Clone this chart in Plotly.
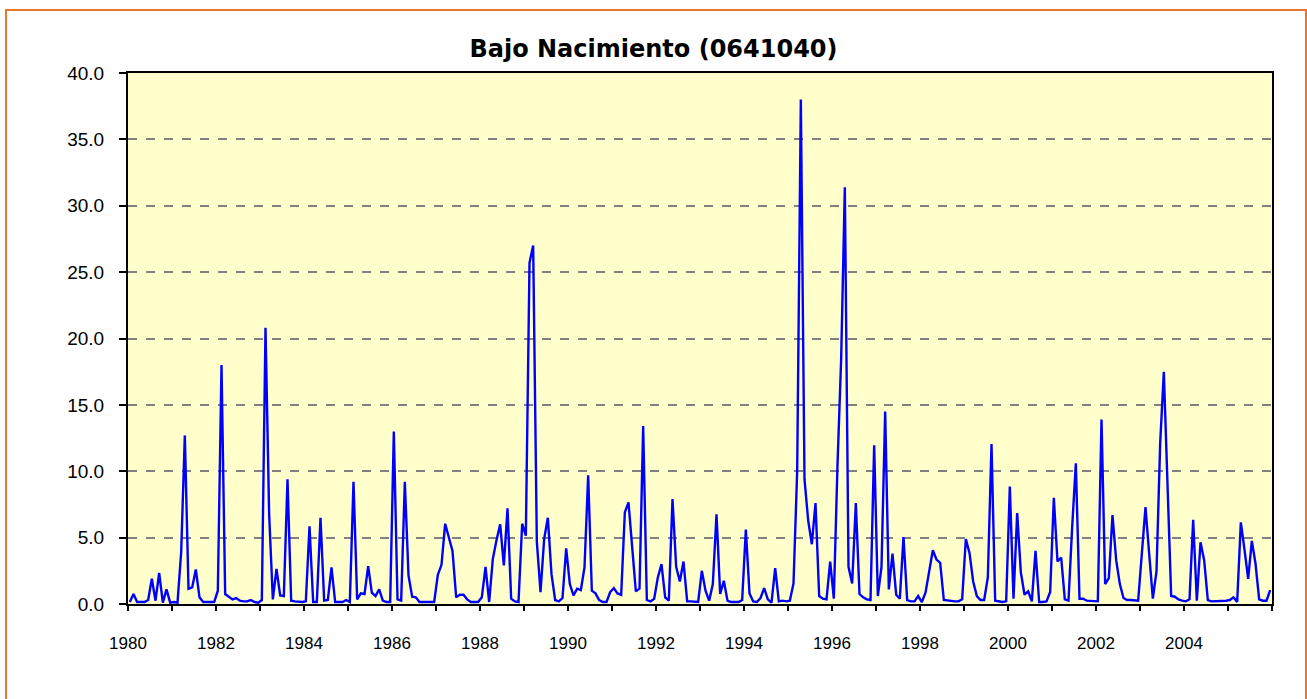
import plotly.graph_objects as go

# Caudal medio mensual (m3/s), estación Bajo Nacimiento (0641040), enero 1980 - diciembre 2005
q1980 = [0.15, 0.75, 0.15, 0.15, 0.15, 0.3, 1.9, 0.25, 2.35, 0.1, 1.1, 0.1]
q1981 = [0.15, 0.1, 3.9, 12.7, 1.15, 1.25, 2.6, 0.5, 0.15, 0.15, 0.15, 0.15]
q1982 = [1.0, 18.0, 0.75, 0.55, 0.35, 0.45, 0.25, 0.2, 0.2, 0.3, 0.15, 0.1]
q1983 = [0.3, 20.8, 6.7, 0.35, 2.65, 0.65, 0.6, 9.4, 0.25, 0.2, 0.15, 0.15]
q1984 = [0.2, 5.85, 0.15, 0.15, 6.5, 0.25, 0.3, 2.75, 0.15, 0.15, 0.15, 0.3]
q1985 = [0.15, 9.2, 0.35, 0.8, 0.75, 2.85, 0.85, 0.6, 1.1, 0.25, 0.15, 0.15]
q1986 = [13.0, 0.35, 0.25, 9.2, 2.15, 0.55, 0.5, 0.15, 0.15, 0.15, 0.15, 0.15]
q1987 = [2.2, 2.95, 6.05, 5.0, 4.0, 0.5, 0.7, 0.7, 0.35, 0.15, 0.15, 0.15]
q1988 = [0.5, 2.8, 0.15, 3.4, 4.8, 6.0, 2.9, 7.2, 0.4, 0.2, 0.15, 6.05]
q1989 = [5.15, 25.7, 27.0, 4.7, 0.9, 4.9, 6.5, 2.25, 0.3, 0.2, 0.45, 4.2]
q1990 = [1.5, 0.65, 1.15, 1.05, 2.75, 9.7, 1.0, 0.8, 0.3, 0.15, 0.15, 0.9]
q1991 = [1.2, 0.8, 0.7, 6.9, 7.65, 4.3, 0.95, 1.15, 13.4, 0.3, 0.2, 0.4]
q1992 = [2.0, 3.0, 0.5, 0.25, 7.9, 2.8, 1.7, 3.2, 0.2, 0.2, 0.15, 0.15]
q1993 = [2.5, 1.0, 0.25, 1.5, 6.75, 0.75, 1.75, 0.25, 0.15, 0.15, 0.15, 0.3]
q1994 = [5.6, 0.8, 0.2, 0.15, 0.45, 1.2, 0.35, 0.1, 2.7, 0.2, 0.25, 0.2]
q1995 = [0.25, 1.55, 10.0, 38.0, 9.4, 6.3, 4.5, 7.6, 0.6, 0.4, 0.35, 3.2]
q1996 = [0.4, 10.5, 18.5, 31.4, 2.8, 1.55, 7.6, 0.75, 0.5, 0.35, 0.3, 11.95]
q1997 = [0.6, 2.8, 14.5, 1.1, 3.8, 0.7, 0.4, 5.05, 0.3, 0.2, 0.2, 0.6]
q1998 = [0.15, 0.85, 2.6, 4.05, 3.35, 3.1, 0.3, 0.25, 0.2, 0.2, 0.2, 0.35]
q1999 = [4.9, 3.85, 1.7, 0.6, 0.3, 0.3, 2.0, 12.05, 0.25, 0.2, 0.15, 0.2]
q2000 = [8.85, 0.4, 6.85, 2.4, 0.7, 0.95, 0.2, 4.0, 0.15, 0.15, 0.2, 0.9]
q2001 = [8.0, 3.2, 3.5, 0.35, 0.25, 5.8, 10.6, 0.4, 0.4, 0.25, 0.25, 0.2]
q2002 = [0.2, 13.9, 1.5, 1.95, 6.7, 3.3, 1.5, 0.45, 0.3, 0.3, 0.3, 0.25]
q2003 = [3.8, 7.3, 3.8, 0.4, 2.45, 12.1, 17.5, 9.0, 0.6, 0.55, 0.35, 0.25]
q2004 = [0.2, 0.35, 6.35, 0.25, 4.65, 3.3, 0.3, 0.2, 0.2, 0.2, 0.2, 0.25]
q2005 = [0.3, 0.5, 0.15, 6.15, 4.1, 1.9, 4.75, 3.05, 0.35, 0.25, 0.25, 1.05]

years = list(range(1980, 2006))
monthly = [q1980, q1981, q1982, q1983, q1984, q1985, q1986, q1987, q1988,
           q1989, q1990, q1991, q1992, q1993, q1994, q1995, q1996, q1997,
           q1998, q1999, q2000, q2001, q2002, q2003, q2004, q2005]

# each month sits at the centre of its slot on a continuous year axis
x = []
y = []
for yr, vals in zip(years, monthly):
    for m, v in enumerate(vals):
        x.append(yr + (m + 0.5) / 12)
        y.append(v)

tick_years = list(range(1980, 2007))
tick_text = [str(t) if (t % 2 == 0 and t <= 2004) else "" for t in tick_years]

fig = go.Figure()
fig.add_trace(go.Scatter(x=x, y=y, mode="lines",
                         line=dict(color="#0000FF", width=2.4),
                         hoverinfo="x+y", showlegend=False))

fig.update_layout(
    width=1307, height=699,
    margin=dict(l=128, r=35, t=73, b=95),
    paper_bgcolor="white",
    plot_bgcolor="#FFFFCC",
    title=dict(text="<b>Bajo Nacimiento (0641040)</b>",
               x=0.5, xanchor="center", y=0.931, yanchor="middle",
               font=dict(family="DejaVu Sans", size=24, color="black")),
    font=dict(family="Liberation Sans", color="black"),
)

fig.update_xaxes(
    range=[1980, 2006], tickvals=tick_years, ticktext=tick_text,
    ticks="outside", ticklen=5, tickwidth=1.5, tickcolor="black",
    showline=True, linecolor="black", linewidth=2, mirror=True,
    showgrid=False, zeroline=False, ticklabelstandoff=18,
    tickfont=dict(family="Liberation Sans", size=17, color="black"),
)
fig.update_yaxes(
    range=[0, 40], dtick=5, tickformat=".1f",
    ticks="outside", ticklen=7, tickwidth=1.5, tickcolor="black",
    showline=True, linecolor="black", linewidth=2, mirror=True,
    showgrid=True, gridcolor="#808080", griddash="dash", gridwidth=1.5,
    zeroline=False, ticklabelstandoff=11,
    tickfont=dict(family="Liberation Sans", size=19, color="black"),
)

# outer chart frame
fig.add_shape(type="rect", xref="paper", yref="paper",
              x0=-122 / 1144, x1=1 + 34 / 1144,
              y0=-105 / 531, y1=1 + 63 / 531,
              line=dict(color="#E8772E", width=2), fillcolor="rgba(0,0,0,0)",
              layer="below")

fig.write_html("out.html")
